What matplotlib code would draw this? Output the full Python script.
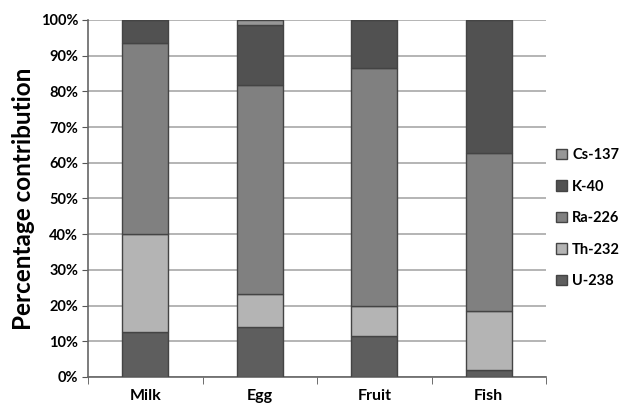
import matplotlib
matplotlib.use("Agg")
import matplotlib.pyplot as plt
import numpy as np

categories = ["Milk", "Egg", "Fruit", "Fish"]
u238 = [12.6, 14.0, 11.4, 2.0]
th232 = [27.4, 9.2, 8.5, 16.5]
ra226 = [53.6, 58.6, 66.7, 44.2]
k40 = [6.4, 16.8, 13.4, 37.3]
cs137 = [0.0, 1.4, 0.0, 0.0]

series = [("U-238", u238, "#5e5e5e"),
          ("Th-232", th232, "#b4b4b4"),
          ("Ra-226", ra226, "#808080"),
          ("K-40", k40, "#515151"),
          ("Cs-137", cs137, "#979797")]

plt.rcParams['font.family'] = ['Lato', 'DejaVu Sans']
fig = plt.figure(figsize=(6.27, 4.08), dpi=100)
ax = fig.add_axes([0.1404, 0.076, 0.7305, 0.875])

x = np.arange(len(categories))
bottom = np.zeros(len(categories))
handles = []
for name, vals, col in series:
    b = ax.bar(x, vals, 0.4, bottom=bottom, color=col, edgecolor="#444444",
               linewidth=1.0, label=name, zorder=3)
    bottom += np.array(vals)
    handles.append(b)

ax.set_xlim(-0.5, len(categories) - 0.5)
ax.set_ylim(0, 100)
ax.set_yticks(np.arange(0, 101, 10))
ax.set_yticklabels([f"{v}%" for v in range(0, 101, 10)], fontsize=10.5, fontweight="bold")
ax.yaxis.grid(True, color="#a8a8a8", linewidth=1.2, zorder=0)
ax.set_axisbelow(True)

ax.set_xticks(x)
ax.set_xticklabels(categories, fontsize=11.5, fontweight="bold")
ax.tick_params(axis="x", which="major", length=0, pad=9)
ax.set_xticks(np.arange(-0.5, len(categories), 1), minor=True)
ax.tick_params(axis="x", which="minor", length=5, color="#555555", direction="out")
ax.tick_params(axis="y", length=4, color="#555555", direction="out", pad=3)

for s in ["top", "right"]:
    ax.spines[s].set_visible(False)
ax.spines["left"].set_color("#666666")
ax.spines["bottom"].set_color("#666666")
ax.spines["left"].set_linewidth(1.2)
ax.spines["bottom"].set_linewidth(1.2)

ax.set_ylabel("Percentage contribution", fontsize=17.5, fontweight="bold", labelpad=4)

leg = ax.legend(handles[::-1], [s[0] for s in series][::-1], loc="center left",
                bbox_to_anchor=(1.022, 0.445), frameon=False, borderaxespad=0,
                borderpad=0, prop={"weight": "bold", "size": 10.5}, handlelength=0.75,
                handleheight=0.75, handletextpad=0.35, labelspacing=1.2)

fig.savefig("out.png", dpi=100)
